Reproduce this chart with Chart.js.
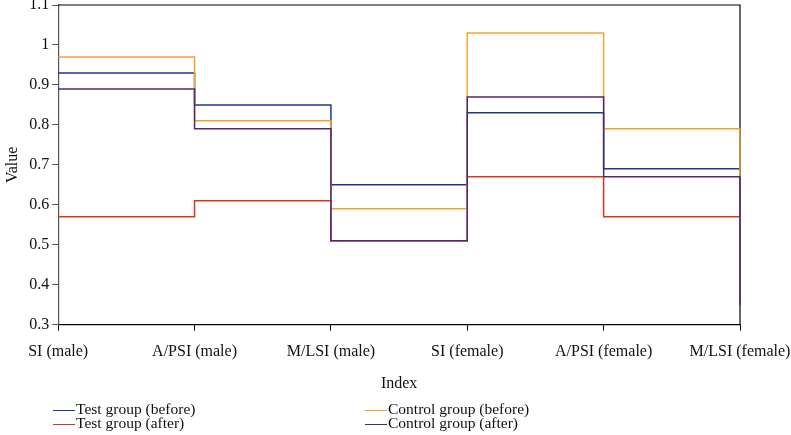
<!DOCTYPE html>
<html>
<head>
<meta charset="utf-8">
<script src="https://cdn.jsdelivr.net/npm/chart.js@4"></script>
<style>
  body { margin: 0; background: #fff; }
  #wrap { position: relative; width: 791px; height: 435px; }
  #legend { position: absolute; left: 53px; top: 402px; width: 700px;
    font-family: "Liberation Serif", serif; font-size: 15.5px; color: #111;
    display: grid; grid-template-columns: 312px 300px; line-height: 14px; }
  #legend span.item { display: flex; align-items: center; }
  #legend i { display: inline-block; width: 22px; height: 0; border-top: 1.5px solid; margin-right: 1px; margin-top: 3px; }
</style>
</head>
<body>
<div id="wrap">
  <canvas id="chart" width="791" height="435"></canvas>
  <div id="legend"></div>
</div>
<script>
var categories = ["SI (male)", "A/PSI (male)", "M/LSI (male)", "SI (female)", "A/PSI (female)", "M/LSI (female)"];
var testBefore = [0.93, 0.85, 0.65, 0.83, 0.69, 0.69];
var testAfter = [0.57, 0.61, 0.51, 0.67, 0.57, 0.57];
var controlBefore = [0.97, 0.81, 0.59, 1.03, 0.79, 0.67];
var controlAfter = [0.89, 0.79, 0.51, 0.87, 0.67, 0.35];

// order: lower number is drawn on top
function series(label, values, color, order) {
    return {
        label: label,
        data: values,
        borderColor: color,
        backgroundColor: color,
        borderWidth: 1.5,
        stepped: 'before',
        pointRadius: 0,
        fill: false,
        order: order
    };
}

var data = {
    labels: categories,
    datasets: [
        series('Test group (before)', testBefore, 'rgb(28, 58, 138)', 4),
        series('Test group (after)', testAfter, 'rgb(222, 52, 30)', 3),
        series('Control group (before)', controlBefore, 'rgb(240, 163, 48)', 2),
        series('Control group (after)', controlAfter, 'rgb(78, 40, 112)', 1)
    ]
};

// top and right frame lines, under the data lines
var frame = {
    id: 'frame',
    beforeDatasetsDraw: function (chart) {
        var a = chart.chartArea, c = chart.ctx;
        c.save();
        c.strokeStyle = '#000';
        c.lineWidth = 1.2;
        c.beginPath();
        c.moveTo(a.left, a.top);
        c.lineTo(a.right, a.top);
        c.lineTo(a.right, a.bottom);
        c.stroke();
        c.restore();
    }
};

var font = { family: '"Liberation Serif", serif', size: 16 };

var ctx = document.getElementById("chart").getContext("2d");
var chart = new Chart(ctx, {
    type: 'line',
    data: data,
    plugins: [frame],
    options: {
        responsive: false,
        animation: false,
        layout: { padding: { top: 0, bottom: 42, left: 3, right: 0 } },
        scales: {
            x: {
                offset: false,
                afterFit: function (scale) { scale.paddingRight = 51; },
                grid: { display: true, drawOnChartArea: false, tickLength: 6, color: '#000' },
                border: { color: '#000', width: 1.2 },
                ticks: { color: '#111', font: font, maxRotation: 0, autoSkip: false, padding: 12 },
                title: { display: true, text: 'Index', color: '#111', font: font, padding: { top: 0, bottom: 0 } }
            },
            y: {
                min: 0.3,
                max: 1.1,
                afterFit: function (scale) { scale.paddingTop = 5; },
                grid: { display: true, drawOnChartArea: false, tickLength: 6, color: '#555' },
                border: { color: '#555', width: 1.2 },
                ticks: {
                    stepSize: 0.1, color: '#111', font: font, padding: 3,
                    callback: function (value) {
                        return String(Number(value.toFixed(1)));
                    }
                },
                title: { display: true, text: 'Value', color: '#111', font: font, padding: { top: 0, bottom: 4 } }
            }
        },
        plugins: {
            legend: { display: false },
            tooltip: { enabled: false }
        }
    }
});

// legend in two columns: test groups left, control groups right
var legendOrder = [0, 2, 1, 3];
var legendEl = document.getElementById('legend');
legendOrder.forEach(function (i) {
    var ds = chart.data.datasets[i];
    var item = document.createElement('span');
    item.className = 'item';
    item.innerHTML = '<i style="border-color:' + ds.borderColor + '"></i>' + ds.label;
    legendEl.appendChild(item);
});
</script>
</body>
</html>
